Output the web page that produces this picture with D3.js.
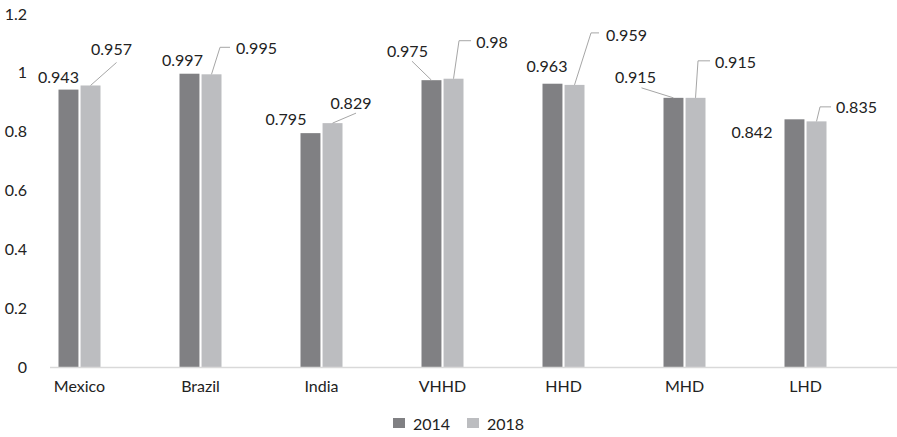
<!DOCTYPE html>
<html><head><meta charset="utf-8">
<script src="https://cdn.jsdelivr.net/npm/d3@7"></script>
<style>body{margin:0;background:#fff}svg{display:block}text{font-family:Lato,"Open Sans",sans-serif;fill:#222}</style>
</head><body>
<svg id="c" width="897" height="437"></svg>
<script>
const categories = ["Mexico","Brazil","India","VHHD","HHD","MHD","LHD"];
const seriesNames = ["2014","2018"];
const values2014 = [0.943,0.997,0.795,0.975,0.963,0.915,0.842];
const values2018 = [0.957,0.995,0.829,0.98,0.959,0.915,0.835];
const yTicks = [0,0.2,0.4,0.6,0.8,1,1.2];
const colors = ["#808083","#bcbdc0"];
// label placement offsets from bar top centre [dx, dy], and leader paths
const labelOff2014 = [[-10,-13],[-7,-14],[-24.5,-15],[-24,-30],[-5.5,-18],[-38,-21],[-42.5,12.5]];
const labelOff2018 = [[21,-37],[45,-26.5],[18.5,-21],[38.5,-37],[52,-50],[40,-36],[40,-14.5]];
const leader2014 = [null,null,null,[[0,0],[-19.5,-19]],null,[[0,0],[-32,-10]],null];
const leader2018 = [[[0,0],[26,-23]],[[0,0],[8.5,-27],[18.5,-27]],[[0,0],[23.5,-10]],[[0,0],[5.5,-38],[17.5,-38]],[[0,0],[16.5,-52],[24.5,-52]],[[0,0],[2.5,-37],[14.5,-37]],[[0,0],[3.5,-14.5],[14.5,-14.5]]];

const FS = "16px";
const svg = d3.select("#c");
const x = d3.scaleBand().domain(categories).range([19,866]).paddingInner(0).paddingOuter(0);
const xs = d3.scaleBand().domain(seriesNames).range([0,42]).paddingInner(4/42);
const y = d3.scaleLinear().domain([0,1.2]).range([367,14]);

// y axis labels
const yAxis = d3.axisLeft(y).tickValues(yTicks).tickSize(0).tickPadding(0).tickFormat(d=>String(d));
const ga = svg.append("g").attr("transform","translate(27,0)").call(yAxis);
ga.select(".domain").remove();
ga.selectAll("text").style("font-size",FS).attr("fill","#222").style("font-family","Lato");

// bars
const series = [values2014, values2018];
const offs = [labelOff2014, labelOff2018];
const leads = [leader2014, leader2018];
series.forEach((vals,si)=>{
  const g = svg.append("g");
  categories.forEach((c,i)=>{
    const bx = x(c) + x.bandwidth()/2 - 21 + xs(seriesNames[si]);
    g.append("rect").attr("x",bx).attr("y",y(vals[i])).attr("width",xs.bandwidth()).attr("height",y(0)-y(vals[i])).attr("fill",colors[si]);
  });
});

// category axis
const xAxis = d3.axisBottom(x).tickSize(0).tickPadding(14);
const gx = svg.append("g").attr("transform","translate(0,367)").call(xAxis);
gx.select(".domain").remove();
gx.selectAll("text").style("font-size",FS).attr("fill","#222").style("font-family","Lato");
svg.append("line").attr("x1",50).attr("x2",897).attr("y1",y(0)+0.5).attr("y2",y(0)+0.5).attr("stroke","#d9d9d9").attr("stroke-width",1.5);

// labels
series.forEach((vals,si)=>{
  categories.forEach((c,i)=>{
    const cx = x(c) + x.bandwidth()/2 - 21 + xs(seriesNames[si]) + xs.bandwidth()/2;
    const ty = y(vals[i]);
    const ld = leads[si][i];
    if(ld){
      svg.append("path").attr("d", d3.line()(ld.map(p=>[cx+p[0], ty+p[1]]))).attr("fill","none").attr("stroke","#a6a6a6").attr("stroke-width",1);
    }
    const o = offs[si][i];
    svg.append("text").attr("x",cx+o[0]).attr("y",ty+o[1]).attr("text-anchor","middle").attr("dominant-baseline","central").style("font-size",FS).text(String(vals[i]));
  });
});

// legend
const lg = svg.append("g");
[[393,"2014"],[467,"2018"]].forEach((d,i)=>{
  lg.append("rect").attr("x",d[0]).attr("y",418).attr("width",12).attr("height",10).attr("fill",colors[i]);
  lg.append("text").attr("x",d[0]+20).attr("y",423).attr("dominant-baseline","central").style("font-size",FS).text(seriesNames[i]);
});
</script>
</body></html>
